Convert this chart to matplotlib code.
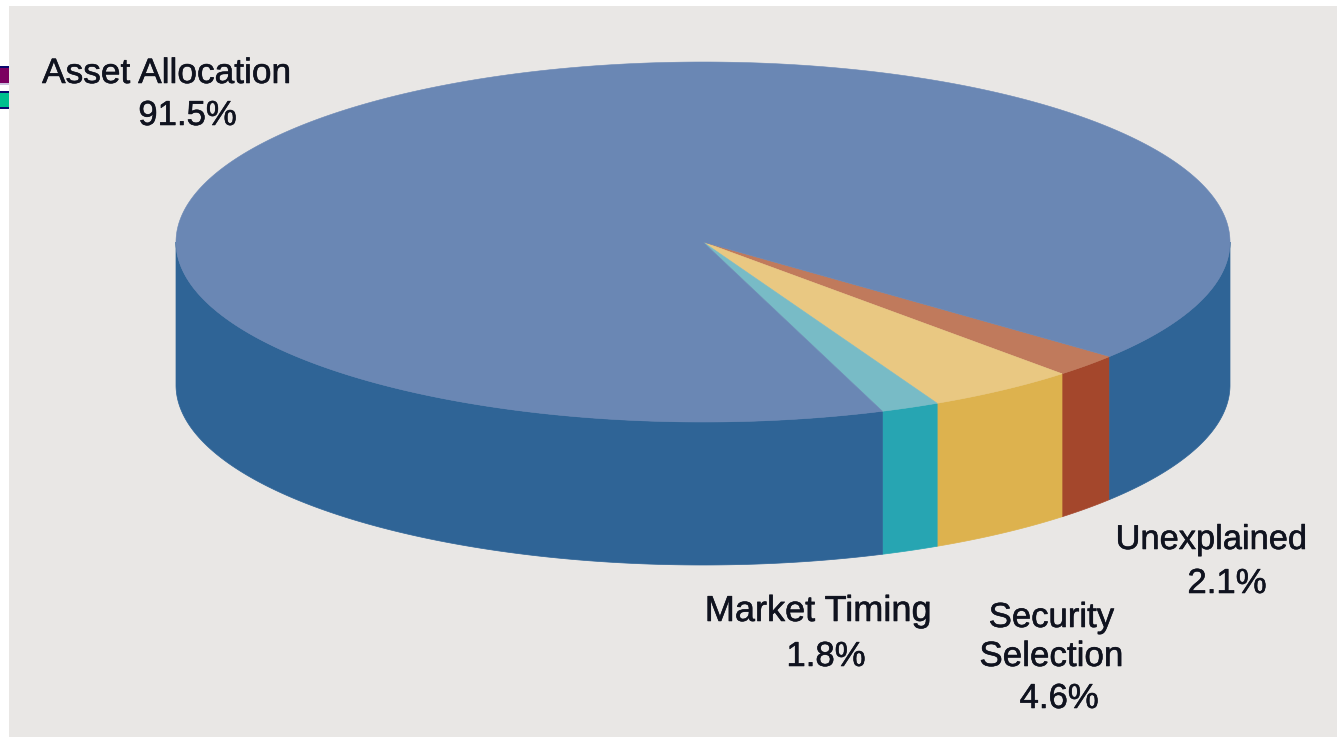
import numpy as np
import matplotlib
matplotlib.use('Agg')
import matplotlib.pyplot as plt
import matplotlib.patheffects as pe
from matplotlib.patches import Polygon, Rectangle

# going clockwise on screen from the big slice
shares = [91.5, 1.8, 4.6, 2.1]
top_colors = ['#6A87B4', '#78BBC6', '#E9C882', '#C07A5C']
side_colors = ['#2F6496', '#27A5B2', '#DDB24E', '#A4472C']

label_lines = ['Asset Allocation', '91.5%',
               'Market Timing', '1.8%',
               'Security', 'Selection', '4.6%',
               'Unexplained', '2.1%']
line_x = [166.5, 187.5, 818, 826, 1051.5, 1051.5, 1059, 1211.5, 1227]
line_y = [83, 125, 621, 666, 627, 666, 708, 549, 593]
line_size = [25.4, 25, 26, 25, 25, 25.2, 25, 24.8, 25]

cx, cy = 703, 242
rx, ry = 527, 180
depth = 143
start_angle = 39.5  # degrees from the +x axis, y pointing down

fig = plt.figure(figsize=(13.37, 7.37), dpi=100)
ax = fig.add_axes([0, 0, 1, 1])
ax.set_xlim(0, 1337)
ax.set_ylim(737, 0)
ax.axis('off')

ax.add_patch(Rectangle((9, 6), 1328, 731, fc='#E9E7E5', ec='none', zorder=0))

# leftover legend swatches cut off by the panel
ax.add_patch(Rectangle((0, 66), 9, 2, fc='#0A0A6E', ec='none', zorder=1))
ax.add_patch(Rectangle((0, 68), 9, 15, fc='#7B0060', ec='none', zorder=1))
ax.add_patch(Rectangle((0, 83), 9, 2, fc='#C9C0DC', ec='none', zorder=1))
ax.add_patch(Rectangle((0, 91), 9, 2, fc='#0A0A6E', ec='none', zorder=1))
ax.add_patch(Rectangle((0, 93), 9, 14, fc='#00BF8F', ec='none', zorder=1))
ax.add_patch(Rectangle((0, 107), 9, 2, fc='#0A0A6E', ec='none', zorder=1))


def rim(t):
    return cx + rx * np.cos(t), cy + ry * np.sin(t)


a0 = start_angle
for share, top, side in zip(shares[::-1], top_colors[::-1], side_colors[::-1]):
    a1 = a0 + share / 100 * 360

    # wall, only the part facing the viewer
    lo, hi = a0, min(a1, 180)
    if lo < hi:
        ts = np.radians(np.linspace(lo, hi, 400))
        sx, sy = rim(ts)
        wall = np.column_stack([np.r_[sx, sx[::-1]], np.r_[sy, sy[::-1] + depth]])
        ax.add_patch(Polygon(wall, fc=side, ec=side, lw=0.5, zorder=2))
    lo, hi = 360, a1
    if lo < hi:
        ts = np.radians(np.linspace(lo, hi, 200))
        sx, sy = rim(ts)
        wall = np.column_stack([np.r_[sx, sx[::-1]], np.r_[sy, sy[::-1] + depth]])
        ax.add_patch(Polygon(wall, fc=side, ec=side, lw=0.5, zorder=2))

    t = np.radians(np.linspace(a0, a1, 800))
    x, y = rim(t)
    face = np.column_stack([np.r_[cx, x], np.r_[cy, y]])
    ax.add_patch(Polygon(face, fc=top, ec=top, lw=0.4, zorder=3))
    a0 = a1

for text, lx, ly, size in zip(label_lines, line_x, line_y, line_size):
    ax.text(lx, ly, text, ha='center', va='baseline', fontsize=size,
            family='Liberation Sans', color='#10131F', zorder=4,
            path_effects=[pe.withStroke(linewidth=0.4, foreground='#10131F')])

fig.savefig('out.png', dpi=100)
